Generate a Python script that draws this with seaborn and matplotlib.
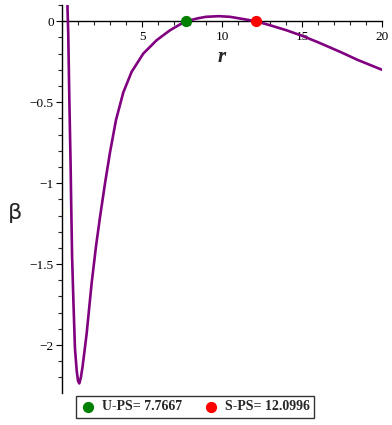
import matplotlib
matplotlib.use("Agg")
import matplotlib.pyplot as plt
import seaborn as sns
import pandas as pd
from matplotlib.ticker import MultipleLocator

# curve values
r = [0.31, 0.33, 0.39, 0.46, 0.54, 0.57, 0.63, 0.71, 0.81, 0.92, 1.00, 1.08,
     1.18, 1.29, 1.54, 1.85, 2.125, 2.375, 2.69, 3.0, 3.375, 3.83, 4.35, 5.08,
     5.92, 6.75, 7.375, 7.7667, 8.5, 9.0, 9.8, 10.5, 11.1, 12.0996, 13.0, 14.0,
     15.0, 16.0, 17.4, 18.5, 20.0]
beta = [0.25, 0.13, -0.076, -0.49, -0.90, -1.10, -1.45, -1.72, -2.02, -2.16,
        -2.22, -2.237, -2.20, -2.13, -1.93, -1.62, -1.39, -1.21, -1.00, -0.81,
        -0.61, -0.44, -0.313, -0.20, -0.117, -0.056, -0.02, 0.0, 0.018, 0.027,
        0.031, 0.027, 0.017, 0.0, -0.025, -0.055, -0.09, -0.13, -0.19, -0.24, -0.30]

ps_r = [7.7667, 12.0996]
ps_beta = [0.0, 0.0]
ps_labels = ["U-PS= 7.7667", "S-PS= 12.0996"]
ps_colors = ["green", "red"]

df = pd.DataFrame({"r": r, "beta": beta})

sns.set_style("white")
plt.rcParams["font.family"] = ["Liberation Serif", "DejaVu Serif"]

fig = plt.figure(figsize=(3.92, 4.25), dpi=100)
ax = fig.add_axes([62 / 392, 32 / 425, 320 / 392, 388 / 425])

sns.lineplot(data=df, x="r", y="beta", color="#800080", linewidth=1.9,
             estimator=None, ax=ax, zorder=3)

handles = []
for x, y, lab, c in zip(ps_r, ps_beta, ps_labels, ps_colors):
    h = ax.scatter([x], [y], s=50, color=c, zorder=4, label=lab, clip_on=False)
    handles.append(h)

ax.set_xlim(0, 20)
ax.set_ylim(-2.296, 0.1)

ax.spines["top"].set_visible(False)
ax.spines["right"].set_visible(False)
ax.spines["bottom"].set_position(("data", 0))
for s in ["bottom", "left"]:
    ax.spines[s].set_linewidth(1.0)
    ax.spines[s].set_color("black")

ax.set_xticks([5, 10, 15, 20])
ax.xaxis.set_minor_locator(MultipleLocator(1))
ax.set_yticks([0, -0.5, -1, -1.5, -2])
ax.set_yticklabels(["0", "\u22120.5", "\u22121", "\u22121.5", "\u22122"])
ax.yaxis.set_minor_locator(MultipleLocator(0.1))
ax.tick_params(axis="both", which="major", direction="out", length=4, width=0.8,
               labelsize=9.5, colors="black", left=True, bottom=True, pad=2)
ax.tick_params(axis="both", which="minor", direction="out", length=3, width=0.8,
               left=True, bottom=True)
ax.tick_params(axis="x", direction="out", pad=3)

ax.set_xlabel("")
ax.set_ylabel("")
ax.text(10, -0.22, "r", fontsize=15, fontweight="bold", fontstyle="italic",
        ha="center", va="center")
fig.text(15 / 392, 1 - 213 / 425, "\u03b2", fontsize=16, family="DejaVu Sans",
         ha="center", va="center")

leg = fig.legend(handles=handles, labels=ps_labels, loc="center", ncol=2,
                 bbox_to_anchor=(195 / 392, 1 - 407 / 425), frameon=True,
                 fancybox=False, edgecolor="black", handletextpad=0.4,
                 columnspacing=1.5, borderpad=0.3, handlelength=1.2,
                 prop={"family": "Liberation Serif", "weight": "bold", "size": 10})
leg.get_frame().set_linewidth(1.0)

fig.savefig("out.png", dpi=100)
